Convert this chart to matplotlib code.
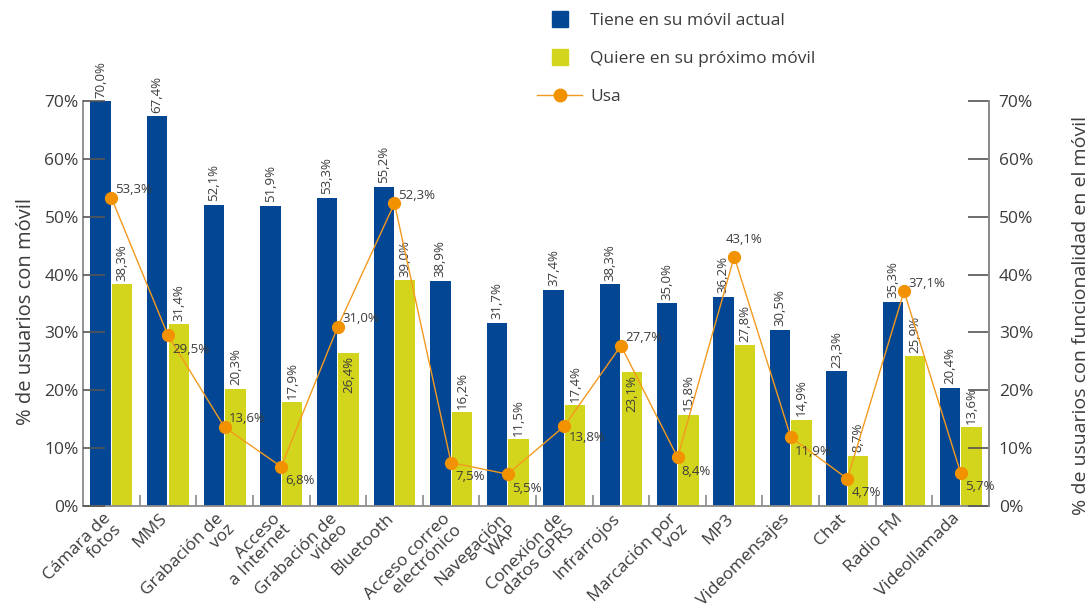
import numpy as np
import matplotlib.pyplot as plt
import matplotlib.transforms as mtransforms
from matplotlib.lines import Line2D

categories = ["Cámara de\nfotos", "MMS", "Grabación de\nvoz", "Acceso\na Internet",
              "Grabación de\nvídeo", "Bluetooth", "Acceso correo\nelectrónico",
              "Navegación\nWAP", "Conexión de\ndatos GPRS", "Infrarrojos",
              "Marcación por\nvoz", "MP3", "Videomensajes", "Chat", "Radio FM",
              "Videollamada"]
tiene = [70.0, 67.4, 52.1, 51.9, 53.3, 55.2, 38.9, 31.7, 37.4, 38.3, 35.0, 36.2, 30.5, 23.3, 35.3, 20.4]
quiere = [38.3, 31.4, 20.3, 17.9, 26.4, 39.0, 16.2, 11.5, 17.4, 23.1, 15.8, 27.8, 14.9, 8.7, 25.9, 13.6]
usa = [53.3, 29.5, 13.6, 6.8, 31.0, 52.3, 7.5, 5.5, 13.8, 27.7, 8.4, 43.1, 11.9, 4.7, 37.1, 5.7]
yticks = [0, 10, 20, 30, 40, 50, 60, 70]

blue = "#034694"
yellow = "#d3d51c"
orange = "#f39a1e"
txt = "#3c3c3c"
grey = "#8a8a8a"

plt.rcParams['font.family'] = ['Open Sans', 'DejaVu Sans']

def fmt(v):
    return f"{v:.1f}%".replace(".", ",")

fig = plt.figure(figsize=(10.91, 6.12), dpi=100)
ax = fig.add_axes([0.0761, 0.1732, 0.8304, 0.6618])
x = np.arange(len(categories))
w = 0.36
ax.bar(x - 0.19, tiene, w, color=blue, zorder=1)
ax.bar(x + 0.19, quiere, w, color=yellow, zorder=1)

ax.set_xlim(-0.5, len(categories) - 0.5)
ax.set_ylim(0, 70)
ax.set_yticks(yticks)
ax.set_yticklabels([f"{t}%" for t in yticks], fontsize=12.5, color=txt)
ax.tick_params(axis='y', direction='in', length=16, width=1.2, color="#555555", pad=3)
ax.set_xticks(x)
ax.set_xticklabels(categories, rotation=45, ha='right', va='top',
                   rotation_mode='anchor', fontsize=12.5, color=txt, linespacing=0.95)
ax.tick_params(axis='x', length=0, pad=2)
# shift category labels a little to the left, like the original
shift = mtransforms.ScaledTranslation(-0.09, -0.02, fig.dpi_scale_trans)
for lab in ax.get_xticklabels():
    lab.set_transform(lab.get_transform() + shift)
ax.set_xticks(np.arange(0.5, len(categories) - 1, 1), minor=True)
ax.tick_params(axis='x', which='minor', direction='in', length=8, width=1.2, color=grey)
ax.set_ylabel("% de usuarios con móvil", fontsize=14.5, color=txt)
ax.yaxis.set_label_coords(-0.052, 0.48)
ax.spines['top'].set_visible(False)
for s in ['left', 'bottom', 'right']:
    ax.spines[s].set_color(grey)
    ax.spines[s].set_linewidth(1.3)
ax.set_axisbelow(False)

inside = [4, 9]
for i in range(len(categories)):
    ax.text(x[i] - 0.19, tiene[i] + 0.6, fmt(tiene[i]), rotation=90, ha='center',
            va='bottom', fontsize=9.5, color=txt)
    if i in inside:
        ax.text(x[i] + 0.19, quiere[i] - 0.4, fmt(quiere[i]), rotation=90, ha='center',
                va='top', fontsize=9.5, color=txt)
    else:
        ax.text(x[i] + 0.19, quiere[i] + 0.6, fmt(quiere[i]), rotation=90, ha='center',
                va='bottom', fontsize=9.5, color=txt)

ax2 = ax.twinx()
ax2.set_ylim(0, 70)
ax2.set_yticks(yticks)
ax2.set_yticklabels([f"{t}%" for t in yticks], fontsize=12.5, color=txt)
ax2.tick_params(axis='y', direction='in', length=15, width=1.2, color="#555555", pad=7)
ax2.set_ylabel("% de usuarios con funcionalidad en el móvil", fontsize=14, color=txt)
ax2.yaxis.set_label_coords(1.092, 0.47)
for s in ['top', 'left', 'bottom']:
    ax2.spines[s].set_visible(False)
ax2.spines['right'].set_color(grey)
ax2.spines['right'].set_linewidth(1.3)
ax2.plot(x, usa, color=orange, lw=1.0, marker='o', ms=8.5, mfc="#f39200", mec="#f39200", zorder=3)

# label offsets for the Usa series (points)
offs = [(3, 6), (3, -10), (3, 6), (3, -10), (3, 6), (3, 6), (3, -10), (3, -10),
        (3, -8), (3, 6), (3, -10), (-6, 12), (3, -10), (3, -10), (3, 6), (3, -10)]
for i, v in enumerate(usa):
    dx, dy = offs[i]
    ax2.annotate(fmt(v), (x[i], v), xytext=(dx, dy), textcoords='offset points',
                 ha='left', va='center', fontsize=9.5, color=txt)

handles = [Line2D([], [], marker='s', ls='none', ms=11, color=blue),
           Line2D([], [], marker='s', ls='none', ms=11, color=yellow),
           Line2D([], [], marker='o', ls='-', lw=1.0, ms=9, color=orange, mfc="#f39200", mec="#f39200")]
leg = fig.legend(handles, ["Tiene en su móvil actual", "Quiere en su próximo móvil", "Usa"],
                 loc='upper left', bbox_to_anchor=(0.478, 1.004), frameon=False,
                 fontsize=12.5, labelspacing=1.25, handlelength=2.6, handletextpad=0.45,
                 labelcolor=txt)

fig.savefig("out.png", dpi=100)
